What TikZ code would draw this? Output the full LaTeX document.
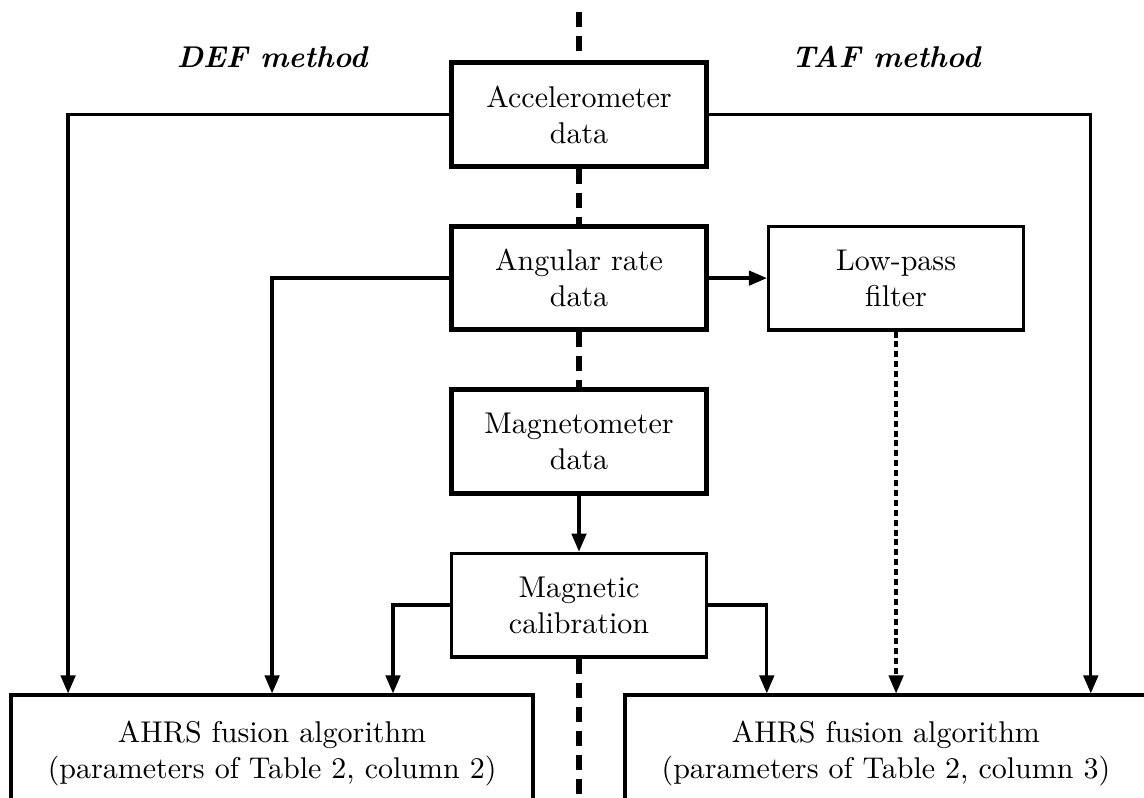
\documentclass[tikz,border=0pt]{standalone}
\usepackage{amsmath}
\usepackage{amssymb}
\usetikzlibrary{arrows.meta}

\begin{document}
\begin{tikzpicture}[>={Triangle[length=6pt,width=4.8pt]}, node distance=54.5pt]
    \tikzstyle{sensor} = [draw, line width=1.7pt, rectangle, minimum width=85pt,
	minimum height=34.5pt, align=center]
    \tikzstyle{block} = [draw, line width=1.1pt, rectangle, minimum width=85pt,
	minimum height=34.5pt, align=center]
    \tikzstyle{fusion} = [draw, line width=1.1pt, rectangle, minimum width=174pt,
	minimum height=39pt, align=center]
    \tikzstyle{split} = [line width=1.7pt, dash pattern=on 5pt off 3pt]
    \tikzstyle{method} = [font=\bfseries\itshape]

	\useasboundingbox (0,0) rectangle (381.33pt,-265.67pt);

	\begin{scope}
		\path[->, line width=1.1pt]
			node[sensor] (acc) at (193pt,-38.2pt) {Accelerometer\\data}
			node[sensor, below of=acc] (ang) {Angular rate\\data}
			node[sensor, below of=ang] (mag) {Magnetometer\\data}
			node[block, below of=mag] (cal) {Magnetic\\calibration}

			node[block, right of=ang, node distance=105.7pt] (lpf) {Low-pass\\filter}

			node[fusion] (ahrsL) at (90.7pt,-251.2pt)
				{AHRS fusion algorithm\\(parameters of Table 2, column 2)}
			node[fusion] (ahrsR) at (295.3pt,-251.2pt)
				{AHRS fusion algorithm\\(parameters of Table 2, column 3)}

			node[method] (def) at (90.7pt,-19pt) {DEF method}
			node[method] (taf) at (295.3pt,-19pt) {TAF method}

			(ang) edge (lpf)
			(mag) edge (cal)
		;

		% dividing line between the two methods
		\coordinate (top) at (193pt,-4pt);
		\coordinate (bottom) at (193pt,-270pt);
		\draw[split] (top) -- (acc.north);
		\draw[split] (acc.south) -- (ang.north);
		\draw[split] (ang.south) -- (mag.north);
		\draw[split] (cal.south) -- (bottom);

		% DEF side
		\draw[->, line width=1.1pt] (acc.west) -| ([xshift=-68pt]ahrsL.north);
		\draw[->, line width=1.1pt] (ang.west) -| (ahrsL.north);
		\draw[->, line width=1.1pt] (cal.west) -| ([xshift=40.3pt]ahrsL.north);

		% TAF side
		\draw[->, line width=1.1pt] (cal.east) -| ([xshift=-39.7pt]ahrsR.north);
		\draw[->, line width=1.1pt, dash pattern=on 2pt off 1.3pt]
			(lpf.south) -- (lpf.south |- ahrsR.north);
		\draw[->, line width=1.1pt] (acc.east) -| ([xshift=68.3pt]ahrsR.north);
	\end{scope}
\end{tikzpicture}
\end{document}
